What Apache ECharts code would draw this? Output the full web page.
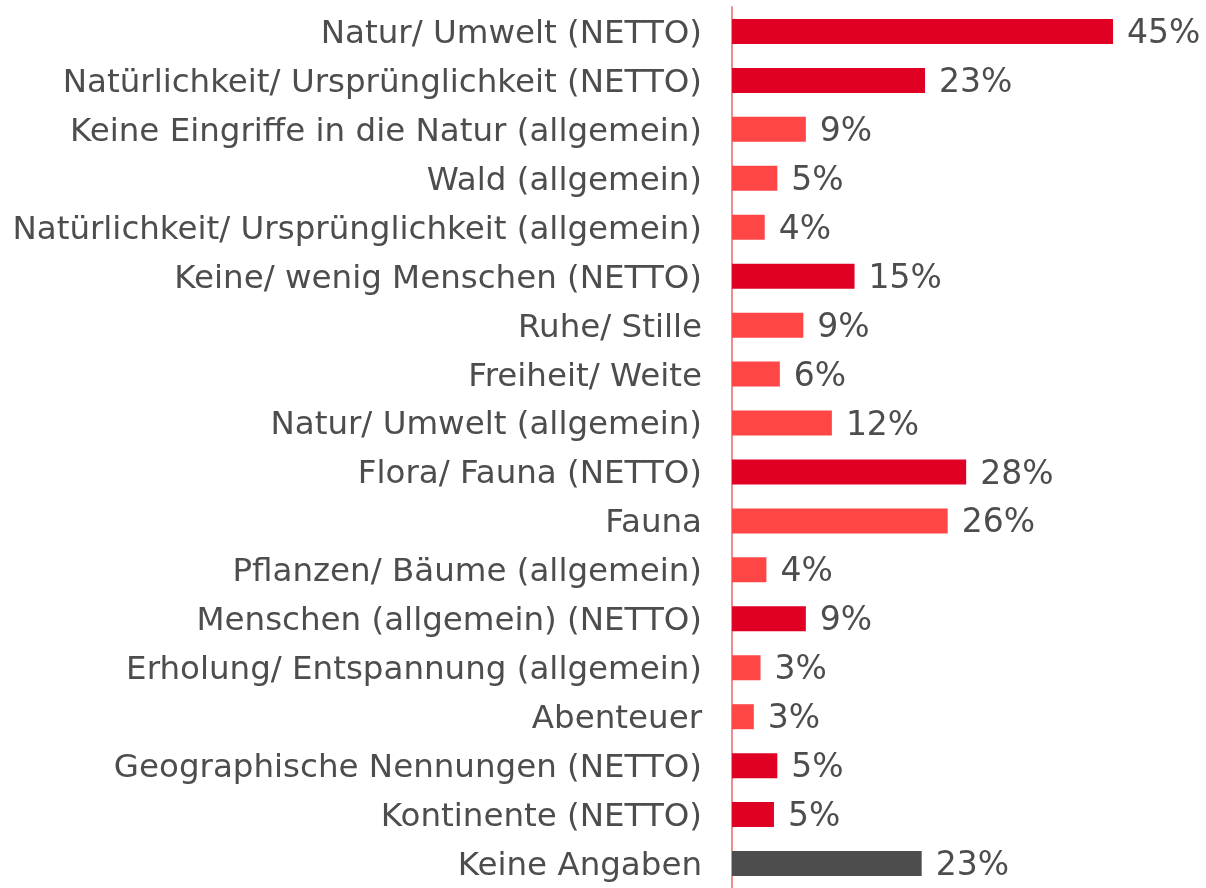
<!DOCTYPE html>
<html>
<head>
<meta charset="utf-8">
<style>
  html, body { margin: 0; padding: 0; background: #fff; }
  #chart { width: 1206px; height: 888px; }
</style>
<script src="https://cdn.jsdelivr.net/npm/echarts@6/dist/echarts.min.js"></script>
</head>
<body>
<div id="chart"></div>
<script>
// Kategorien von oben nach unten
const categories = [
  'Natur/ Umwelt (NETTO)',
  'Natürlichkeit/ Ursprünglichkeit (NETTO)',
  'Keine Eingriffe in die Natur (allgemein)',
  'Wald (allgemein)',
  'Natürlichkeit/ Ursprünglichkeit (allgemein)',
  'Keine/ wenig Menschen (NETTO)',
  'Ruhe/ Stille',
  'Freiheit/ Weite',
  'Natur/ Umwelt (allgemein)',
  'Flora/ Fauna (NETTO)',
  'Fauna',
  'Pflanzen/ Bäume (allgemein)',
  'Menschen (allgemein) (NETTO)',
  'Erholung/ Entspannung (allgemein)',
  'Abenteuer',
  'Geographische Nennungen (NETTO)',
  'Kontinente (NETTO)',
  'Keine Angaben'
];

// geschätzte Werte (Balkenlänge) und angezeigte Beschriftung
const values = [45.4, 23.0, 8.8, 5.4, 3.9, 14.6, 8.5, 5.7, 11.9, 27.9, 25.7, 4.1, 8.8, 3.4, 2.6, 5.4, 5.0, 22.6];
const valueLabels = ['45%', '23%', '9%', '5%', '4%', '15%', '9%', '6%', '12%', '28%', '26%', '4%', '9%', '3%', '3%', '5%', '5%', '23%'];

// Typ je Zeile: netto / detail / none
const rowTypes = ['netto', 'netto', 'detail', 'detail', 'detail', 'netto', 'detail', 'detail', 'detail',
  'netto', 'detail', 'detail', 'netto', 'detail', 'detail', 'netto', 'netto', 'none'];

const typeColors = { netto: '#e00024', detail: '#ff4647', none: '#4d4d4d' };

const chart = echarts.init(document.getElementById('chart'));

const option = {
  animation: false,
  grid: {
    left: 732,
    top: 7,
    width: 470,
    height: 888
  },
  xAxis: {
    type: 'value',
    min: 0,
    max: 56,
    show: false
  },
  yAxis: {
    type: 'category',
    inverse: true,
    data: categories,
    axisLine: { show: true, lineStyle: { color: '#ee8c8f', width: 2 } },
    axisTick: { show: false },
    axisLabel: {
      margin: 30,
      formatter: v => '{t|' + v + '}',
      rich: {
        t: {
          color: '#4d4d4d',
          fontSize: 32.5,
          fontFamily: 'DejaVu Sans',
          padding: [6, 0, 0, 0]
        }
      }
    }
  },
  series: [{
    type: 'bar',
    barWidth: 25,
    data: values.map((v, i) => ({
      value: v,
      itemStyle: { color: typeColors[rowTypes[i]] }
    })),
    label: {
      show: true,
      position: 'right',
      distance: 14,
      formatter: p => '{t|' + valueLabels[p.dataIndex] + '}',
      rich: {
        t: {
          color: '#4d4d4d',
          fontSize: 33,
          fontFamily: 'DejaVu Sans',
          padding: [6, 0, 0, 0]
        }
      }
    }
  }]
};

chart.setOption(option);
</script>
</body>
</html>
